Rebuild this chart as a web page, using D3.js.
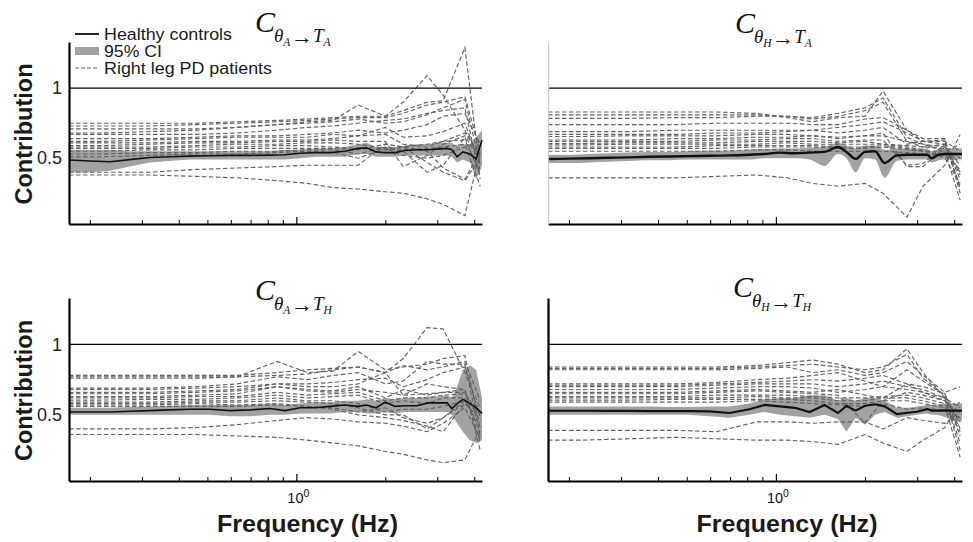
<!DOCTYPE html>
<html><head><meta charset="utf-8">
<script src="https://cdn.jsdelivr.net/npm/d3@7"></script>
<style>body{margin:0;background:#fff}svg{display:block}</style>
</head><body>
<svg id="chart" width="973" height="542"></svg>
<script>
// ---------- DATA ----------
const freqPatients = [0.17,0.22,0.32,0.46,0.63,0.86,1.09,1.33,1.62,2.0,2.3,2.77,3.14,3.72,4.19];
const freqControls = [0.17,0.2,0.234,0.273,0.319,0.373,0.436,0.51,0.596,0.697,0.814,0.915,1.03,1.16,1.3,1.46,1.62,1.73,1.86,2.0,2.16,2.33,2.56,2.79,2.99,3.24,3.36,3.5,3.66,3.87,4.06,4.25];

const yTicks = [0.5, 1];
const yTickLabels = ["0.5", "1"];
const xMinorTicks = [0.2,0.3,0.4,0.5,0.6,0.7,0.8,0.9,2,3,4];
const xMajorTicks = [1];
const legendLabels = ["Healthy controls", "95% CI", "Right leg PD patients"];

// theta_A -> T_A
const ctrlMeanTL = [0.487,0.48,0.475,0.49,0.505,0.51,0.515,0.518,0.52,0.52,0.522,0.525,0.535,0.54,0.54,0.55,0.57,0.575,0.545,0.54,0.54,0.555,0.56,0.56,0.565,0.57,0.56,0.51,0.545,0.53,0.495,0.63];
const ctrlLoTL = [0.40,0.40,0.41,0.44,0.47,0.48,0.49,0.49,0.49,0.49,0.49,0.49,0.50,0.51,0.51,0.51,0.53,0.53,0.51,0.51,0.51,0.52,0.52,0.52,0.52,0.52,0.51,0.47,0.49,0.47,0.35,0.45];
const ctrlHiTL = [0.56,0.56,0.56,0.55,0.55,0.55,0.55,0.55,0.55,0.55,0.55,0.56,0.56,0.57,0.57,0.58,0.60,0.61,0.58,0.58,0.58,0.59,0.60,0.60,0.61,0.61,0.61,0.58,0.60,0.60,0.65,0.70];
const patientsTL = [
 [0.75,0.75,0.75,0.75,0.76,0.77,0.78,0.79,0.80,0.80,0.84,0.90,0.91,1.29,0.40],
 [0.73,0.73,0.73,0.74,0.75,0.76,0.77,0.78,0.79,0.79,0.82,0.88,0.90,0.94,0.55],
 [0.71,0.71,0.71,0.71,0.72,0.74,0.75,0.76,0.78,0.75,0.76,0.81,0.86,0.92,0.45],
 [0.68,0.68,0.69,0.70,0.72,0.74,0.76,0.77,0.88,0.80,0.90,1.09,0.95,0.70,0.50],
 [0.67,0.67,0.67,0.67,0.68,0.70,0.72,0.73,0.75,0.77,0.78,0.82,0.84,0.86,0.35],
 [0.64,0.64,0.64,0.65,0.66,0.66,0.67,0.68,0.70,0.68,0.70,0.74,0.80,0.82,0.60],
 [0.62,0.62,0.63,0.64,0.65,0.65,0.65,0.67,0.66,0.72,0.65,0.66,0.69,0.75,0.45],
 [0.61,0.61,0.61,0.62,0.62,0.63,0.63,0.64,0.66,0.67,0.60,0.58,0.62,0.68,0.52],
 [0.59,0.59,0.60,0.61,0.61,0.62,0.62,0.63,0.62,0.62,0.44,0.52,0.60,0.66,0.48],
 [0.58,0.58,0.58,0.59,0.60,0.60,0.61,0.61,0.60,0.57,0.55,0.40,0.45,0.65,0.38],
 [0.57,0.57,0.57,0.58,0.58,0.59,0.59,0.58,0.57,0.56,0.58,0.60,0.62,0.63,0.40],
 [0.55,0.55,0.56,0.56,0.57,0.57,0.57,0.57,0.56,0.60,0.58,0.55,0.43,0.35,0.55],
 [0.53,0.53,0.54,0.54,0.55,0.55,0.56,0.56,0.53,0.58,0.56,0.57,0.58,0.60,0.30],
 [0.51,0.51,0.52,0.53,0.53,0.54,0.55,0.54,0.50,0.57,0.52,0.50,0.52,0.58,0.62],
 [0.40,0.40,0.40,0.42,0.43,0.44,0.45,0.45,0.45,0.60,0.58,0.47,0.40,0.34,0.50],
 [0.38,0.38,0.38,0.37,0.36,0.34,0.32,0.29,0.28,0.26,0.25,0.21,0.17,0.09,0.55]
];

// theta_H -> T_A
const ctrlMeanTR = [0.494,0.497,0.50,0.503,0.506,0.51,0.512,0.515,0.518,0.52,0.525,0.53,0.54,0.535,0.54,0.545,0.58,0.545,0.495,0.545,0.55,0.466,0.52,0.525,0.525,0.525,0.50,0.52,0.53,0.53,0.53,0.53];
const ctrlLoTR = [0.465,0.465,0.47,0.475,0.48,0.485,0.485,0.49,0.49,0.49,0.49,0.50,0.50,0.50,0.49,0.445,0.53,0.50,0.40,0.50,0.49,0.36,0.48,0.49,0.49,0.49,0.47,0.48,0.49,0.49,0.49,0.49];
const ctrlHiTR = [0.525,0.525,0.53,0.535,0.54,0.545,0.545,0.55,0.555,0.555,0.56,0.565,0.57,0.57,0.575,0.58,0.61,0.59,0.57,0.59,0.59,0.56,0.57,0.57,0.57,0.57,0.55,0.56,0.565,0.57,0.57,0.57];
const patientsTR = [
 [0.83,0.83,0.83,0.83,0.83,0.82,0.79,0.76,0.79,0.80,0.98,0.70,0.62,0.62,0.55],
 [0.81,0.81,0.81,0.81,0.81,0.81,0.80,0.79,0.82,0.86,0.93,0.65,0.60,0.58,0.45],
 [0.785,0.785,0.785,0.79,0.79,0.80,0.80,0.78,0.80,0.84,0.90,0.62,0.58,0.60,0.30],
 [0.74,0.74,0.74,0.74,0.75,0.75,0.75,0.74,0.74,0.78,0.79,0.70,0.64,0.64,0.25],
 [0.69,0.69,0.69,0.70,0.70,0.70,0.70,0.70,0.72,0.74,0.76,0.68,0.62,0.60,0.35],
 [0.67,0.67,0.67,0.67,0.68,0.68,0.69,0.70,0.68,0.70,0.72,0.60,0.62,0.63,0.28],
 [0.655,0.655,0.66,0.66,0.66,0.67,0.67,0.66,0.65,0.66,0.68,0.44,0.44,0.58,0.40],
 [0.63,0.63,0.63,0.64,0.64,0.65,0.65,0.66,0.64,0.66,0.66,0.62,0.60,0.55,0.20],
 [0.62,0.62,0.62,0.62,0.63,0.63,0.64,0.64,0.62,0.63,0.63,0.45,0.46,0.60,0.38],
 [0.605,0.605,0.61,0.61,0.61,0.62,0.62,0.62,0.61,0.62,0.60,0.59,0.58,0.57,0.50],
 [0.595,0.595,0.60,0.60,0.60,0.60,0.61,0.60,0.60,0.60,0.60,0.58,0.56,0.50,0.32],
 [0.58,0.58,0.58,0.58,0.59,0.59,0.59,0.59,0.58,0.58,0.59,0.57,0.55,0.52,0.42],
 [0.57,0.57,0.57,0.57,0.57,0.58,0.58,0.58,0.57,0.57,0.58,0.56,0.55,0.55,0.60],
 [0.55,0.55,0.55,0.55,0.55,0.56,0.56,0.55,0.55,0.55,0.55,0.54,0.53,0.52,0.48],
 [0.36,0.36,0.36,0.36,0.37,0.38,0.36,0.32,0.30,0.32,0.25,0.08,0.30,0.45,0.67]
];

// theta_A -> T_H
const ctrlMeanBL = [0.52,0.52,0.52,0.525,0.53,0.535,0.54,0.54,0.53,0.535,0.545,0.53,0.55,0.55,0.56,0.57,0.56,0.57,0.55,0.59,0.56,0.565,0.565,0.585,0.585,0.585,0.545,0.58,0.61,0.58,0.55,0.51];
const ctrlLoBL = [0.50,0.50,0.50,0.50,0.50,0.50,0.50,0.50,0.49,0.49,0.50,0.50,0.51,0.51,0.51,0.52,0.52,0.51,0.51,0.52,0.51,0.52,0.52,0.52,0.52,0.52,0.50,0.44,0.38,0.32,0.30,0.32];
const ctrlHiBL = [0.55,0.55,0.55,0.555,0.56,0.565,0.57,0.57,0.57,0.57,0.58,0.57,0.58,0.59,0.59,0.60,0.60,0.61,0.60,0.62,0.61,0.62,0.62,0.63,0.63,0.64,0.62,0.70,0.82,0.85,0.82,0.62];
const patientsBL = [
 [0.78,0.78,0.78,0.78,0.78,0.80,0.82,0.83,0.84,0.80,0.90,1.12,1.11,0.80,0.55],
 [0.77,0.77,0.77,0.77,0.77,0.88,0.80,0.81,0.95,0.82,0.84,0.86,0.90,0.92,0.40],
 [0.76,0.76,0.76,0.76,0.77,0.78,0.79,0.82,0.84,0.80,0.85,0.82,0.84,0.88,0.60],
 [0.69,0.69,0.69,0.70,0.72,0.77,0.75,0.78,0.80,0.72,0.74,0.88,0.86,0.86,0.35],
 [0.68,0.68,0.68,0.69,0.70,0.72,0.72,0.73,0.75,0.76,0.70,0.75,0.80,0.84,0.48],
 [0.66,0.66,0.66,0.67,0.68,0.72,0.70,0.70,0.72,0.80,0.64,0.72,0.70,0.68,0.30],
 [0.65,0.65,0.65,0.66,0.67,0.70,0.68,0.67,0.70,0.62,0.68,0.64,0.66,0.66,0.45],
 [0.63,0.63,0.63,0.64,0.65,0.70,0.67,0.66,0.68,0.66,0.64,0.65,0.66,0.68,0.25],
 [0.62,0.62,0.62,0.63,0.63,0.66,0.64,0.65,0.66,0.60,0.62,0.62,0.64,0.65,0.50],
 [0.605,0.605,0.61,0.61,0.62,0.64,0.62,0.63,0.64,0.58,0.60,0.58,0.62,0.62,0.38],
 [0.59,0.59,0.59,0.60,0.60,0.62,0.60,0.60,0.58,0.52,0.54,0.54,0.56,0.60,0.42],
 [0.58,0.58,0.58,0.59,0.59,0.60,0.59,0.58,0.55,0.50,0.50,0.40,0.48,0.60,0.55],
 [0.57,0.57,0.57,0.58,0.57,0.58,0.56,0.54,0.50,0.48,0.46,0.42,0.38,0.58,0.47],
 [0.56,0.56,0.56,0.56,0.56,0.57,0.56,0.55,0.52,0.55,0.48,0.44,0.48,0.58,0.52],
 [0.40,0.40,0.40,0.41,0.43,0.46,0.48,0.47,0.45,0.44,0.42,0.38,0.44,0.55,0.33],
 [0.36,0.36,0.36,0.36,0.35,0.34,0.32,0.30,0.28,0.24,0.22,0.18,0.16,0.18,0.40]
];

// theta_H -> T_H
const ctrlMeanBR = [0.529,0.529,0.529,0.528,0.528,0.527,0.527,0.527,0.525,0.513,0.54,0.57,0.56,0.55,0.52,0.57,0.513,0.563,0.53,0.565,0.575,0.56,0.505,0.515,0.522,0.541,0.53,0.53,0.532,0.53,0.53,0.53];
const ctrlLoBR = [0.50,0.50,0.50,0.50,0.50,0.50,0.50,0.50,0.49,0.48,0.50,0.52,0.50,0.49,0.48,0.50,0.47,0.38,0.48,0.43,0.50,0.52,0.48,0.49,0.50,0.51,0.50,0.50,0.49,0.47,0.45,0.46];
const ctrlHiBR = [0.56,0.56,0.56,0.56,0.56,0.56,0.555,0.555,0.56,0.56,0.58,0.61,0.62,0.62,0.64,0.64,0.60,0.62,0.60,0.62,0.62,0.60,0.55,0.55,0.56,0.57,0.57,0.57,0.58,0.58,0.58,0.58];
const patientsBR = [
 [0.84,0.84,0.84,0.84,0.84,0.85,0.87,0.89,0.86,0.80,0.82,0.97,0.80,0.62,0.55],
 [0.83,0.83,0.83,0.83,0.83,0.84,0.85,0.86,0.84,0.82,0.84,0.93,0.76,0.64,0.45],
 [0.82,0.82,0.82,0.82,0.82,0.83,0.84,0.80,0.82,0.78,0.80,0.88,0.78,0.66,0.70],
 [0.72,0.72,0.72,0.72,0.73,0.75,0.76,0.78,0.80,0.74,0.70,0.82,0.74,0.64,0.35],
 [0.71,0.71,0.71,0.71,0.72,0.73,0.74,0.75,0.74,0.76,0.78,0.72,0.70,0.65,0.40],
 [0.70,0.70,0.70,0.70,0.71,0.72,0.72,0.72,0.70,0.72,0.74,0.70,0.68,0.62,0.30],
 [0.68,0.68,0.68,0.68,0.69,0.70,0.70,0.69,0.66,0.68,0.70,0.68,0.66,0.60,0.50],
 [0.66,0.66,0.66,0.66,0.67,0.68,0.67,0.66,0.68,0.64,0.62,0.72,0.66,0.62,0.25],
 [0.65,0.65,0.65,0.65,0.66,0.67,0.66,0.65,0.64,0.44,0.60,0.66,0.64,0.60,0.45],
 [0.63,0.63,0.63,0.63,0.64,0.64,0.64,0.63,0.62,0.62,0.63,0.64,0.62,0.58,0.38],
 [0.62,0.62,0.62,0.62,0.62,0.63,0.62,0.62,0.60,0.60,0.62,0.62,0.60,0.56,0.20],
 [0.605,0.605,0.605,0.61,0.61,0.61,0.61,0.60,0.58,0.58,0.60,0.60,0.58,0.55,0.48],
 [0.59,0.59,0.59,0.59,0.59,0.60,0.59,0.58,0.57,0.56,0.58,0.54,0.55,0.53,0.42],
 [0.39,0.39,0.39,0.39,0.38,0.45,0.45,0.44,0.45,0.45,0.40,0.48,0.46,0.44,0.52],
 [0.32,0.32,0.33,0.34,0.33,0.32,0.32,0.31,0.29,0.36,0.30,0.24,0.32,0.41,0.60]
];

// ---------- DRAWING ----------
const svg = d3.select("#chart");
const xDomain = [0.17, 4.25];
const yDomain = [0.03, 1.33];
const sans = "Arial, 'Liberation Sans', sans-serif";
const serif = "'Liberation Serif', 'Times New Roman', serif";
const bandColor = "#a2a2a2";
const dashColor = "#626262";

const panels = [
  {mean: ctrlMeanTL, lo: ctrlLoTL, hi: ctrlHiTL, pats: patientsTL, sub: ["A","A"], x0: 69, x1: 482, yb: 224, yt: 42, tx: 255, ty: 32, left: true, bottom: false, axisCol: "#000", smooth: false, lw: 1.6},
  {mean: ctrlMeanTR, lo: ctrlLoTR, hi: ctrlHiTR, pats: patientsTR, sub: ["H","A"], x0: 548, x1: 962, yb: 224, yt: 42, tx: 735, ty: 33, left: false, bottom: false, axisCol: "#c8c8c8", smooth: true, lw: 2.4},
  {mean: ctrlMeanBL, lo: ctrlLoBL, hi: ctrlHiBL, pats: patientsBL, sub: ["A","H"], x0: 69, x1: 482, yb: 481, yt: 298, tx: 255, ty: 300, left: true, bottom: true, axisCol: "#000", smooth: false, lw: 1.6},
  {mean: ctrlMeanBR, lo: ctrlLoBR, hi: ctrlHiBR, pats: patientsBR, sub: ["H","H"], x0: 548, x1: 962, yb: 481, yt: 298, tx: 733, ty: 297, left: false, bottom: true, axisCol: "#000", smooth: false, lw: 2.2}
];

panels.forEach(p => {
  const x = d3.scaleLog().domain(xDomain).range([p.x0, p.x1]);
  const y = d3.scaleLinear().domain(yDomain).range([p.yb, p.yt]);
  const g = svg.append("g");

  // CI band
  const bandData = freqControls.map((f, i) => ({f, lo: p.lo[i], hi: p.hi[i]}));
  g.append("path")
    .datum(bandData)
    .attr("fill", bandColor)
    .attr("stroke", "none")
    .attr("d", d3.area().x(d => x(d.f)).y0(d => y(d.lo)).y1(d => y(d.hi))
      .curve(p.smooth ? d3.curveMonotoneX : d3.curveLinear));

  // patients
  const pl = d3.line().x(d => x(d.f)).y(d => y(d.v));
  p.pats.forEach(vals => {
    g.append("path")
      .datum(freqPatients.map((f, i) => ({f, v: vals[i]})))
      .attr("fill", "none")
      .attr("stroke", dashColor)
      .attr("stroke-width", 1.15)
      .attr("stroke-dasharray", "4.5,2.5")
      .attr("d", pl);
  });

  // reference line at 1
  g.append("line")
    .attr("x1", x(xDomain[0])).attr("x2", x(xDomain[1]))
    .attr("y1", y(1)).attr("y2", y(1))
    .attr("stroke", "#000").attr("stroke-width", 1.2);

  // healthy control mean
  g.append("path")
    .datum(freqControls.map((f, i) => ({f, v: p.mean[i]})))
    .attr("fill", "none")
    .attr("stroke", "#111")
    .attr("stroke-width", p.lw)
    .attr("d", d3.line().x(d => x(d.f)).y(d => y(d.v))
      .curve(p.smooth ? d3.curveMonotoneX : d3.curveLinear));

  // x axis minor ticks
  const gx = g.append("g").attr("transform", `translate(0,${p.yb})`);
  gx.call(d3.axisBottom(x).tickValues(xMinorTicks).tickSize(-4).tickSizeOuter(0).tickFormat(""));
  gx.select(".domain").attr("stroke", "#000").attr("stroke-width", 2.2);
  gx.selectAll(".tick line").attr("stroke", "#000").attr("stroke-width", 1);
  const gx2 = g.append("g").attr("transform", `translate(0,${p.yb})`);
  gx2.call(d3.axisBottom(x).tickValues(xMajorTicks).tickSize(-7).tickSizeOuter(0).tickFormat(""));
  gx2.select(".domain").remove();
  gx2.selectAll(".tick line").attr("stroke", "#000").attr("stroke-width", 1.2);
  if (p.bottom) {
    xMajorTicks.forEach(t => {
      const tt = g.append("text")
        .attr("x", x(t) + 2).attr("y", p.yb + 22)
        .attr("text-anchor", "middle")
        .attr("font-family", sans)
        .attr("font-size", 14.5).attr("fill", "#111");
      tt.append("tspan").text("10");
      tt.append("tspan").attr("font-size", 10.5).attr("dy", -6).text(String(Math.round(Math.log10(t))));
    });
    g.append("text")
      .attr("x", (p.x0 + p.x1) / 2 + 32).attr("y", 532)
      .attr("text-anchor", "middle")
      .attr("font-family", sans)
      .attr("font-weight", "bold").attr("font-size", 24.5).attr("fill", "#1a1a1a")
      .attr("textLength", 181).attr("lengthAdjust", "spacingAndGlyphs")
      .text("Frequency (Hz)");
  }

  // y axis
  const gy = g.append("g").attr("transform", `translate(${p.x0},0)`);
  gy.call(d3.axisLeft(y).tickValues(yTicks).tickSize(0).tickSizeOuter(0).tickPadding(7)
    .tickFormat((d, i) => p.left ? yTickLabels[i] : ""));
  gy.select(".domain").attr("stroke", p.axisCol).attr("stroke-width", p.axisCol === "#000" ? 2.2 : 1.2);
  gy.selectAll(".tick text")
    .attr("font-family", sans)
    .attr("font-size", 18).attr("fill", "#222");
  if (p.left) {
    g.append("text")
      .attr("transform", `translate(32,${(p.yb + p.yt) / 2 + 1}) rotate(-90)`)
      .attr("text-anchor", "middle")
      .attr("font-family", sans)
      .attr("font-weight", "bold").attr("font-size", 24).attr("fill", "#1a1a1a")
      .attr("textLength", 141).attr("lengthAdjust", "spacingAndGlyphs")
      .text("Contribution");
  }

  // title C_{theta_X -> T_Y} as one text element with tspans
  const tt = g.append("text")
    .attr("x", p.tx).attr("y", p.ty)
    .attr("font-family", serif).attr("fill", "#111");
  tt.append("tspan").attr("font-size", 30).attr("font-style", "italic").text("C");
  tt.append("tspan").attr("font-size", 19).attr("font-style", "italic").attr("dx", -1).attr("dy", 10).text("θ");
  tt.append("tspan").attr("font-size", 11.5).attr("font-style", "italic").attr("dy", 4).text(p.sub[0]);
  tt.append("tspan").attr("font-size", 22).attr("dx", 0.5).attr("dy", -2).text("→");
  tt.append("tspan").attr("font-size", 19).attr("font-style", "italic").attr("dy", -2).text("T");
  tt.append("tspan").attr("font-size", 11.5).attr("font-style", "italic").attr("dy", 4).text(p.sub[1]);
});

// legend
const lg = svg.append("g").attr("font-family", sans).attr("font-size", 16).attr("fill", "#1a1a1a");
const legY = [34, 51, 68];
const legW = [128, 58, 168];
lg.append("line").attr("x1", 75).attr("x2", 99).attr("y1", legY[0]).attr("y2", legY[0]).attr("stroke", "#111").attr("stroke-width", 1.8);
lg.append("rect").attr("x", 75).attr("y", legY[1] - 4).attr("width", 24).attr("height", 8).attr("fill", bandColor);
lg.append("line").attr("x1", 75).attr("x2", 99).attr("y1", legY[2]).attr("y2", legY[2]).attr("stroke", dashColor).attr("stroke-width", 1.1).attr("stroke-dasharray", "4,2");
legendLabels.forEach((t, i) => {
  lg.append("text").attr("x", 104).attr("y", legY[i] + 5.5)
    .attr("textLength", legW[i]).attr("lengthAdjust", "spacingAndGlyphs").text(t);
});
</script>
</body></html>
